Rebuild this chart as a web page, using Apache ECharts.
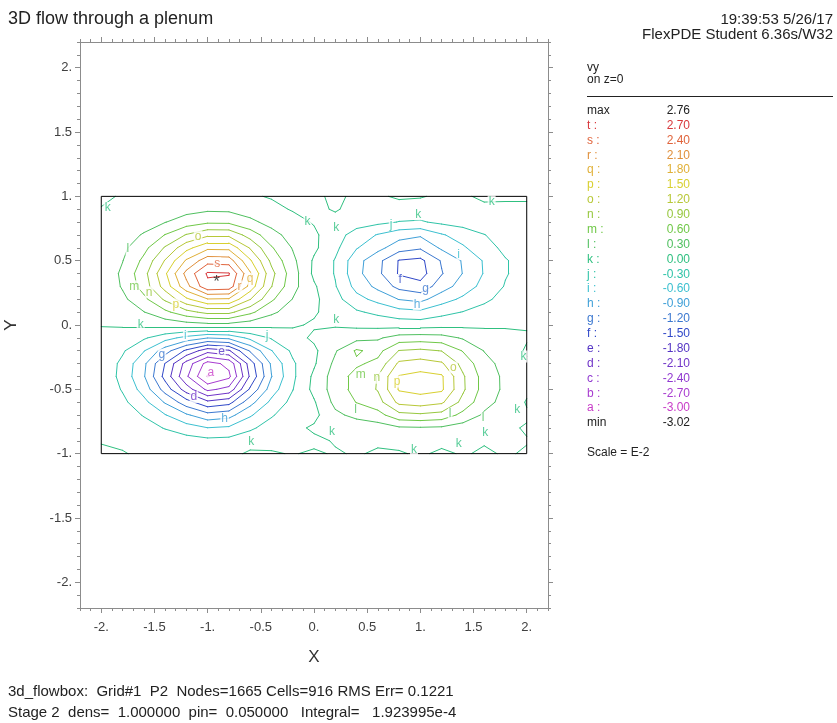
<!DOCTYPE html>
<html>
<head>
<meta charset="utf-8">
<script src="https://cdn.jsdelivr.net/npm/echarts@6/dist/echarts.min.js"></script>
<style>
  html, body { margin: 0; background: #fff; }
  #chart { width: 837px; height: 723px; }
</style>
</head>
<body>
<div id="chart"></div>
<script>
// grid of vy (scaled E-2), rows from y=1 down to y=-1
const xs = [-2.0, -1.8, -1.6, -1.4, -1.2, -1.0, -0.8, -0.6, -0.4, -0.2, 0.0, 0.2, 0.4, 0.6, 0.8, 1.0, 1.2, 1.4, 1.6, 1.8, 2.0];
const ys = [1.0, 0.9, 0.8, 0.7, 0.6, 0.5, 0.4, 0.3, 0.2, 0.1, 0.0, -0.1, -0.2, -0.3, -0.4, -0.5, -0.6, -0.7, -0.8, -0.9, -1.0];
const vy = [
  [-0.04, 0.02, 0.03, 0.05, 0.08, 0.10, 0.09, 0.03, -0.02, -0.04, -0.03, 0.03, -0.03, -0.04, 0.04, 0.02, -0.05, -0.03, 0.04, 0.02, 0.02],
  [0.01, 0.04, 0.08, 0.13, 0.20, 0.25, 0.24, 0.16, 0.07, -0.02, -0.05, 0.02, -0.07, -0.09, -0.12, -0.13, -0.10, -0.07, -0.05, -0.03, -0.03],
  [0.01, 0.07, 0.16, 0.29, 0.44, 0.55, 0.54, 0.37, 0.20, 0.09, -0.02, -0.07, -0.17, -0.23, -0.31, -0.33, -0.24, -0.18, -0.12, -0.07, -0.04],
  [0.02, 0.15, 0.33, 0.61, 0.92, 1.14, 1.13, 0.77, 0.41, 0.18, 0.05, -0.17, -0.43, -0.62, -0.79, -0.86, -0.63, -0.47, -0.31, -0.17, -0.10],
  [0.035, 0.23, 0.51, 0.93, 1.40, 1.73, 1.72, 1.17, 0.63, 0.28, 0.06, -0.23, -0.58, -0.81, -1.06, -1.16, -0.85, -0.64, -0.42, -0.23, -0.14],
  [0.046, 0.29, 0.67, 1.22, 1.84, 2.28, 2.25, 1.54, 0.83, 0.37, -0.04, -0.32, -0.79, -1.11, -1.52, -1.58, -1.17, -0.87, -0.57, -0.32, -0.19],
  [0.055, 0.36, 0.79, 1.45, 2.19, 2.74, 2.72, 1.84, 0.99, 0.44, -0.06, -0.32, -0.81, -1.13, -1.53, -1.62, -1.22, -0.89, -0.58, -0.32, -0.19],
  [0.05, 0.33, 0.73, 1.33, 2.00, 2.62, 2.58, 1.68, 0.91, 0.40, 0.04, -0.28, -0.70, -0.98, -1.29, -1.40, -1.04, -0.77, -0.50, -0.28, -0.17],
  [0.036, 0.23, 0.52, 0.95, 1.44, 1.78, 1.76, 1.21, 0.65, 0.29, 0.07, -0.20, -0.50, -0.69, -0.91, -0.99, -0.73, -0.54, -0.36, -0.20, -0.12],
  [0.02, 0.13, 0.29, 0.53, 0.80, 0.99, 0.98, 0.67, 0.36, 0.16, 0.03, -0.11, -0.26, -0.37, -0.49, -0.53, -0.39, -0.29, -0.19, -0.11, -0.06],
  [0.004, 0.026, 0.058, 0.106, 0.16, 0.198, 0.196, 0.134, 0.072, 0.032, -0.03, -0.026, -0.066, -0.092, -0.121, -0.132, -0.098, -0.073, -0.048, -0.026, -0.016],
  [-0.027, -0.117, -0.26, -0.477, -0.70, -0.89, -0.83, -0.52, -0.27, -0.108, 0.05, 0.125, 0.20, 0.26, 0.426, 0.448, 0.417, 0.269, 0.134, 0.067, 0.02],
  [-0.06, -0.26, -0.58, -1.06, -1.56, -1.98, -1.84, -1.16, -0.61, -0.24, -0.06, 0.27, 0.64, 0.50, 0.91, 0.96, 0.89, 0.58, 0.29, 0.14, -0.03],
  [-0.086, -0.37, -0.83, -1.51, -2.22, -2.82, -2.62, -1.65, -0.855, -0.342, -0.04, 0.372, 0.55, 0.68, 1.26, 1.33, 1.24, 0.80, 0.40, 0.20, 0.04],
  [-0.09, -0.39, -0.87, -1.60, -2.35, -3.02, -2.77, -1.75, -0.91, -0.36, 0.06, 0.44, 0.71, 0.91, 1.52, 1.60, 1.54, 0.94, 0.47, 0.235, 0.06],
  [-0.075, -0.325, -0.725, -1.325, -1.95, -2.475, -2.30, -1.45, -0.75, -0.31, 0.08, 0.44, 0.71, 0.92, 1.53, 1.60, 1.55, 0.95, 0.475, 0.238, 0.05],
  [-0.053, -0.23, -0.51, -0.93, -1.37, -1.73, -1.61, -1.015, -0.525, -0.21, -0.03, 0.38, 0.61, 0.78, 1.28, 1.344, 1.25, 0.806, 0.403, 0.20, -0.02],
  [-0.033, -0.143, -0.32, -0.583, -0.858, -1.09, -1.01, -0.64, -0.33, -0.132, -0.08, 0.237, 0.38, 0.49, 0.806, 0.848, 0.789, 0.509, 0.254, 0.127, 0.03],
  [-0.018, -0.078, -0.174, -0.318, -0.468, -0.594, -0.552, -0.348, -0.18, -0.072, 0.04, 0.076, 0.122, 0.158, 0.258, 0.272, 0.253, 0.163, 0.082, 0.041, -0.02],
  [-0.007, -0.029, -0.064, -0.117, -0.17, -0.218, -0.202, -0.128, -0.066, -0.026, -0.05, 0.018, 0.029, 0.037, 0.061, 0.064, 0.06, 0.038, 0.019, 0.01, 0.01],
  [0.02, 0.01, -0.029, -0.053, -0.078, -0.099, -0.092, 0.05, 0.02, -0.012, 0.03, -0.02, 0.02, -0.03, -0.02, 0.03, -0.04, 0.02, -0.03, 0.02, -0.02]
];

const levels = [-3.0, -2.7, -2.4, -2.1, -1.8, -1.5, -1.2, -0.9, -0.6, -0.3, 0.0, 0.3, 0.6, 0.9, 1.2, 1.5, 1.8, 2.1, 2.4, 2.7];
const letters = ["a", "b", "c", "d", "e", "f", "g", "h", "i", "j", "k", "l", "m", "n", "o", "p", "q", "r", "s", "t"];
const levelColors = ["#c83cc8", "#a83cd0", "#9038d0", "#7034c8", "#5434c4", "#3048c8", "#3c78d0", "#40a0d8", "#3cc0d0", "#30c4a8",
  "#30c080", "#50c060", "#70c848", "#98c840", "#b8c838", "#d8d030", "#e0b038", "#e0903c", "#e0643c", "#d8383c"];
const vyMax = 2.76;
const vyMin = -3.02;
const maxAt = [-0.916, 0.359];

const domainX = [-2, 2];
const domainY = [-1, 1];
const majorTicks = [-2, -1.5, -1, -0.5, 0, 0.5, 1, 1.5, 2];

// letters written on the contours, as placed in the picture
const contourLabels = [
  [-1.94, 0.91, "k"], [-1.75, 0.59, "l"], [-1.69, 0.30, "m"], [-1.55, 0.255, "n"], [-1.09, 0.69, "o"],
  [-1.30, 0.16, "p"], [-0.91, 0.48, "s"], [-0.70, 0.30, "r"], [-0.60, 0.36, "q"], [-0.06, 0.80, "k"],
  [0.21, 0.76, "k"], [0.98, 0.86, "k"], [1.67, 0.96, "k"], [0.725, 0.78, "j"], [1.36, 0.55, "i"],
  [0.81, 0.35, "f"], [1.05, 0.28, "g"], [0.97, 0.16, "h"], [-1.63, 0.0, "k"], [0.21, 0.04, "k"],
  [-1.21, -0.08, "i"], [-0.44, -0.08, "j"], [-1.43, -0.23, "g"], [-0.87, -0.21, "e"], [-0.97, -0.37, "a"],
  [-1.13, -0.56, "d"], [-0.84, -0.73, "h"], [-0.59, -0.91, "k"], [1.97, -0.245, "k"], [1.31, -0.33, "o"],
  [0.44, -0.39, "m"], [0.59, -0.41, "n"], [0.78, -0.44, "p"], [0.39, -0.66, "l"], [1.28, -0.69, "l"],
  [1.59, -0.72, "l"], [1.91, -0.66, "k"], [0.17, -0.83, "k"], [1.61, -0.84, "k"], [1.36, -0.92, "k"],
  [0.94, -0.97, "k"]
];

const FONT = "'Liberation Sans', Arial, sans-serif";
const axisGray = "#8c8c8c";

function contourSegments(level) {
  const segs = [];
  const up = (v) => v >= level;
  const cross = (p, q, va, vb) => {
    const t = (level - va) / (vb - va);
    return [p[0] + t * (q[0] - p[0]), p[1] + t * (q[1] - p[1])];
  };
  for (let r = 0; r < ys.length - 1; r++) {
    for (let c = 0; c < xs.length - 1; c++) {
      const x0 = xs[c], x1 = xs[c + 1], y0 = ys[r], y1 = ys[r + 1];
      const a = vy[r][c], b = vy[r][c + 1], d = vy[r + 1][c], e = vy[r + 1][c + 1];
      const pts = {};
      if (up(a) !== up(b)) pts.top = cross([x0, y0], [x1, y0], a, b);
      if (up(b) !== up(e)) pts.right = cross([x1, y0], [x1, y1], b, e);
      if (up(d) !== up(e)) pts.bottom = cross([x0, y1], [x1, y1], d, e);
      if (up(a) !== up(d)) pts.left = cross([x0, y0], [x0, y1], a, d);
      const keys = Object.keys(pts);
      if (keys.length === 2) {
        segs.push([pts[keys[0]], pts[keys[1]]]);
      } else if (keys.length === 4) {
        if (up((a + b + d + e) / 4) === up(a)) {
          segs.push([pts.top, pts.right], [pts.bottom, pts.left]);
        } else {
          segs.push([pts.top, pts.left], [pts.right, pts.bottom]);
        }
      }
    }
  }
  return segs;
}

const minorTicks = [];
for (let i = -22; i <= 22; i++) minorTicks.push(i / 10);

const tickLabel = (v) => (Number.isInteger(v) ? v + "." : String(v));

function makeAxis(position, ticks, len, main, extra) {
  return Object.assign({
    type: "value",
    position,
    min: -2.2,
    max: 2.2,
    axisLine: { show: main, onZero: false, lineStyle: { color: axisGray, width: 1 } },
    axisTick: { show: true, customValues: ticks, length: len, inside: false, lineStyle: { color: axisGray, width: 1 } },
    axisLabel: { show: false },
    splitLine: { show: false }
  }, extra || {});
}

const xAxes = [
  makeAxis("bottom", majorTicks, 5, true, {
    axisLabel: { show: true, customValues: majorTicks, formatter: tickLabel, color: "#404040", fontSize: 13, fontFamily: FONT, margin: 13 },
    name: "X", nameLocation: "middle", nameGap: 41,
    nameTextStyle: { fontSize: 17, color: "#333", fontFamily: FONT }
  }),
  makeAxis("bottom", minorTicks, 3, false),
  makeAxis("top", majorTicks, 5, true),
  makeAxis("top", minorTicks, 3, false)
];
const yAxes = [
  makeAxis("left", majorTicks, 5, true, {
    axisLabel: { show: true, customValues: majorTicks, formatter: tickLabel, color: "#404040", fontSize: 13, fontFamily: FONT, margin: 8 },
    name: "Y", nameLocation: "middle", nameGap: 60,
    nameTextStyle: { fontSize: 17, color: "#333", fontFamily: FONT }
  }),
  makeAxis("left", minorTicks, 3, false),
  makeAxis("right", majorTicks, 5, true),
  makeAxis("right", minorTicks, 3, false)
];

const contourSeries = levels.map((lv, i) => ({
  type: "lines",
  name: letters[i],
  coordinateSystem: "cartesian2d",
  xAxisIndex: 0,
  yAxisIndex: 0,
  silent: true,
  lineStyle: { color: levelColors[i], width: 1, opacity: 1, cap: "round" },
  data: contourSegments(lv).map((s) => ({ coords: s }))
}));

const boxSeries = {
  type: "line",
  xAxisIndex: 0,
  yAxisIndex: 0,
  silent: true,
  showSymbol: false,
  lineStyle: { color: "#000", width: 1 },
  data: [[domainX[0], domainY[0]], [domainX[1], domainY[0]], [domainX[1], domainY[1]], [domainX[0], domainY[1]], [domainX[0], domainY[0]]]
};

const labelSeries = {
  type: "scatter",
  xAxisIndex: 0,
  yAxisIndex: 0,
  silent: true,
  symbolSize: 0,
  z: 5,
  label: {
    show: true,
    position: "inside",
    formatter: "{b}",
    fontSize: 12,
    fontFamily: FONT,
    backgroundColor: "#fff",
    padding: [0, 1]
  },
  data: contourLabels.map(([x, y, ch]) => ({
    name: ch,
    value: [x, y],
    label: { color: levelColors[letters.indexOf(ch)] }
  }))
};

const maxSeries = {
  type: "scatter",
  xAxisIndex: 0,
  yAxisIndex: 0,
  silent: true,
  symbolSize: 0,
  z: 6,
  label: { show: true, position: "inside", formatter: "*", fontSize: 17, color: "#222", fontFamily: FONT, offset: [0, 3] },
  data: [{ name: "max", value: maxAt }]
};

// legend block on the right
const legendX = 587;
const legendValueX = 690;
const rowTop = 110.7;
const rowStep = 14.87;
const legendRows = [{ key: "max", val: vyMax, color: "#222" }];
for (let i = levels.length - 1; i >= 0; i--) {
  legendRows.push({ key: letters[i] + " :", val: levels[i], color: levelColors[i] });
}
legendRows.push({ key: "min", val: vyMin, color: "#222" });

const textEl = (x, y, text, size, color, align) => ({
  type: "text",
  silent: true,
  style: {
    x, y, text,
    font: size + "px " + FONT,
    fill: color,
    align: align || "left",
    textAlign: align || "left",
    verticalAlign: "middle",
    textVerticalAlign: "middle"
  }
});

const graphics = [
  textEl(8, 19, "3D flow through a plenum", 18, "#222"),
  textEl(833, 20, "19:39:53 5/26/17", 15, "#222", "right"),
  textEl(833, 35, "FlexPDE Student 6.36s/W32", 15, "#222", "right"),
  textEl(legendX, 68, "vy", 12, "#222"),
  textEl(legendX, 80, "on z=0", 12, "#222"),
  { type: "line", silent: true, shape: { x1: legendX, y1: 96.5, x2: 833, y2: 96.5 }, style: { stroke: "#222", lineWidth: 1 } },
  textEl(legendX, 453, "Scale = E-2", 12, "#222"),
  textEl(8, 692, "3d_flowbox:  Grid#1  P2  Nodes=1665 Cells=916 RMS Err= 0.1221", 15, "#222"),
  textEl(8, 713, "Stage 2  dens=  1.000000  pin=  0.050000   Integral=   1.923995e-4", 15, "#222")
];
legendRows.forEach((row, i) => {
  const y = rowTop + i * rowStep;
  graphics.push(textEl(legendX, y, row.key, 12, row.color));
  graphics.push(textEl(legendValueX, y, row.val.toFixed(2), 12, row.color, "right"));
});

const chart = echarts.init(document.getElementById("chart"), null, { renderer: "canvas" });
chart.setOption({
  animation: false,
  backgroundColor: "#fff",
  grid: { left: 80, top: 42, width: 468, height: 566, containLabel: false, outerBoundsMode: "none" },
  xAxis: xAxes,
  yAxis: yAxes,
  series: [...contourSeries, boxSeries, labelSeries, maxSeries],
  graphic: graphics
});
</script>
</body>
</html>
